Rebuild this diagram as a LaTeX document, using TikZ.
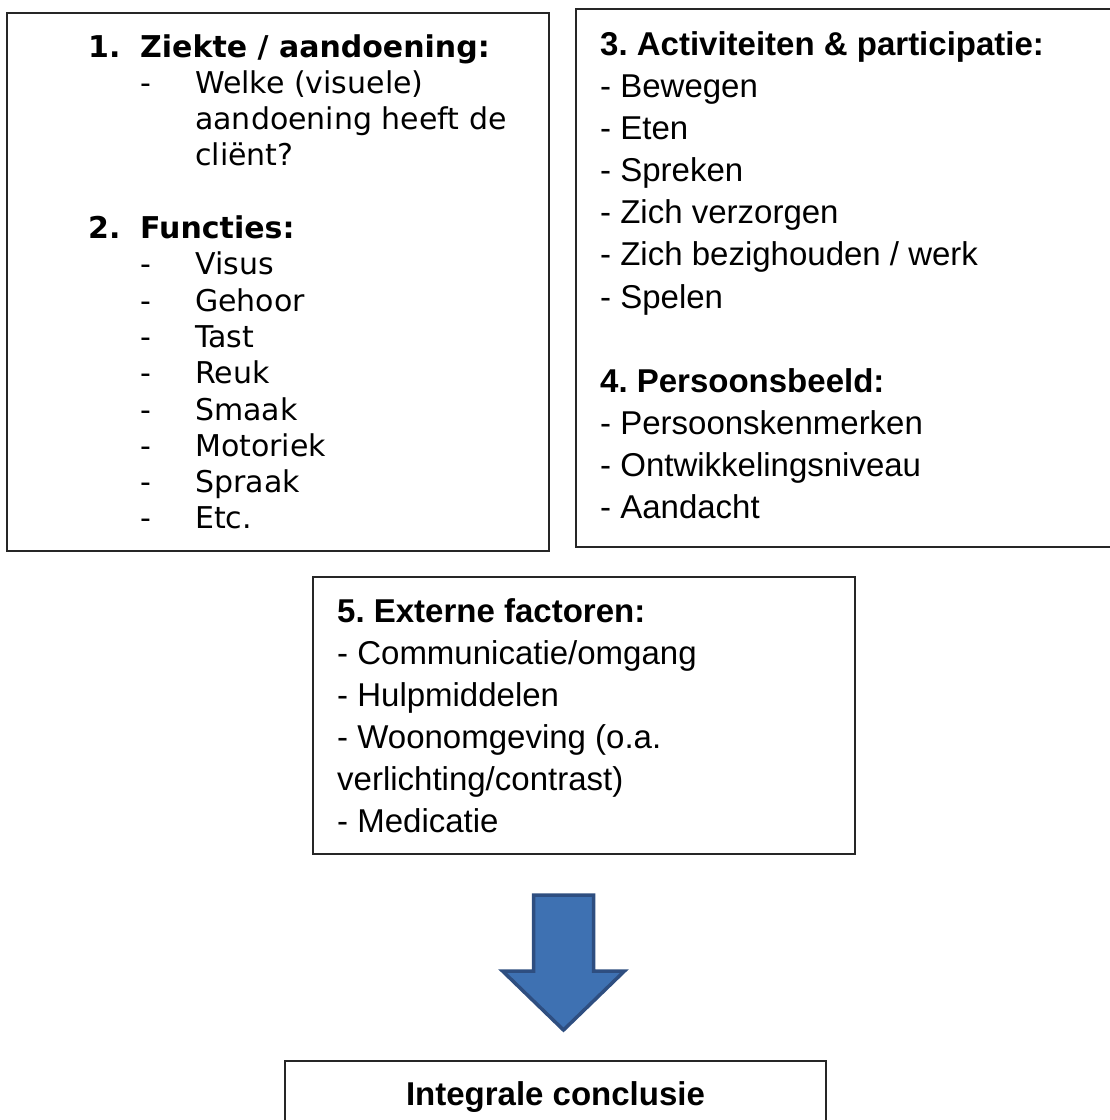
\documentclass[tikz,border=0pt]{standalone}
\usepackage{fontspec}
\setmainfont{Liberation Sans}
\newfontfamily\verdana{DejaVu Sans}

\definecolor{pijlblauw}{RGB}{62,113,178}
\definecolor{pijlrand}{RGB}{46,78,128}

\tikzset{%
  % Specifications for style of nodes:
         kader/.style = {rectangle, draw = black!85, line width=1.6pt, inner sep=0pt, outer sep=0pt, anchor=north west},
         tekst/.style = {inner sep=0pt, anchor=base west, font=\frenchspacing\fontsize{33}{42.1}\selectfont},
        tekstv/.style = {inner sep=0pt, anchor=base west, font=\frenchspacing\verdana\fontsize{30}{36.3}\selectfont},
      blokpijl/.style = {fill=pijlblauw, draw=pijlrand, line width=3.5pt, line join=miter},
}

\begin{document}
\begin{tikzpicture}[x=1pt, y=-1pt]
    \useasboundingbox (0,0) rectangle (1110,1120);

    % Draw boxes
    \node (ziekte)     [kader, minimum width=542pt, minimum height=538pt] at (7,13) {};
    \node (activiteit) [kader, minimum width=536pt, minimum height=538pt] at (576,9) {};
    \node (extern)     [kader, minimum width=542pt, minimum height=277pt] at (313,577) {};
    \node (conclusie)  [kader, anchor=north, minimum width=541pt, inner ysep=20pt,
                        text height=24pt, text depth=90pt,
                        font=\fontsize{33}{42.1}\selectfont\bfseries] at (555.5,1061) {Integrale conclusie};

    % Draw texts
    \node (ziektetekst) [tekstv] at (88,57) {%
      \begin{tabular}[t]{@{}p{52pt}@{}p{55pt}@{}l@{}}
        \textbf{1.} & \multicolumn{2}{@{}l@{}}{\textbf{Ziekte / aandoening:}}\\
        & - & Welke (visuele)\\
        & & aandoening heeft de\\
        & & cliënt?\\
        \\
        \textbf{2.} & \multicolumn{2}{@{}l@{}}{\textbf{Functies:}}\\
        & - & Visus\\
        & - & Gehoor\\
        & - & Tast\\
        & - & Reuk\\
        & - & Smaak\\
        & - & Motoriek\\
        & - & Spraak\\
        & - & Etc.
      \end{tabular}};

    \node (activiteittekst) [tekst] at (600,55.4) {%
      \begin{tabular}[t]{@{}l@{}}
        \textbf{3. Activiteiten \& participatie:}\\
        - Bewegen\\
        - Eten\\
        - Spreken\\
        - Zich verzorgen\\
        - Zich bezighouden / werk\\
        - Spelen\\
        \\
        \textbf{4. Persoonsbeeld:}\\
        - Persoonskenmerken\\
        - Ontwikkelingsniveau\\
        - Aandacht
      \end{tabular}};

    \node (externtekst) [tekst] at (337,622) {%
      \begin{tabular}[t]{@{}l@{}}
        \textbf{5. Externe factoren:}\\
        - Communicatie/omgang\\
        - Hulpmiddelen\\
        - Woonomgeving (o.a.\\
        verlichting/contrast)\\
        - Medicatie
      \end{tabular}};

    % Draw arrow
    \coordinate (pijltop) at (563.5,895);
    \draw[blokpijl] (pijltop) ++(-30,0) -- ++(60,0) -- ++(0,76) -- ++(31,0)
                    -- (563.5,1030) -- (502.5,971) -- ++(31,0) -- cycle;
\end{tikzpicture}
\end{document}
